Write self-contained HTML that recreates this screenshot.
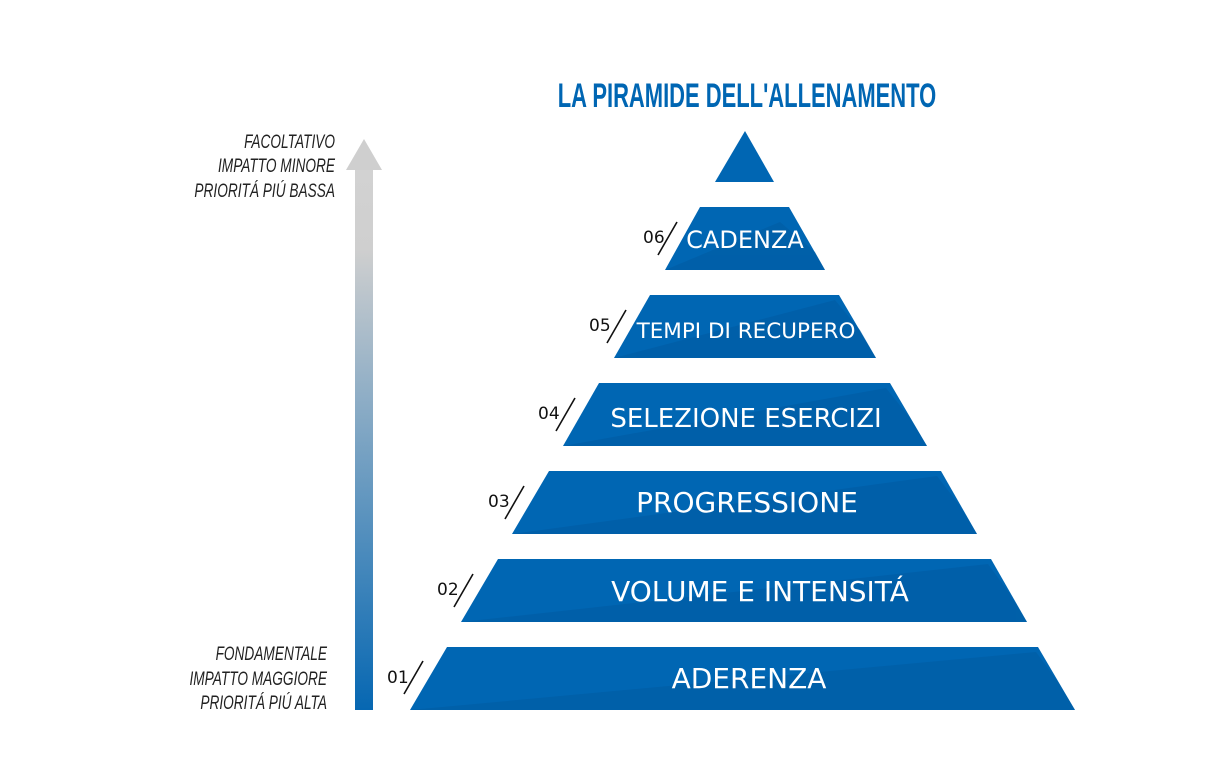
<!DOCTYPE html>
<html><head><meta charset="utf-8"><style>
html,body{margin:0;padding:0;background:#fff;}
svg{display:block}
</style></head><body>
<svg width="1220" height="782" viewBox="0 0 1220 782" xmlns="http://www.w3.org/2000/svg">
<defs>
<linearGradient id="ar" x1="0" y1="0" x2="0" y2="1">
<stop offset="0" stop-color="#d2d2d2"/><stop offset="0.15" stop-color="#cfcfcf"/><stop offset="1" stop-color="#0667b2"/>
</linearGradient>
</defs>
<text x="747" y="107" text-anchor="middle" font-family="Liberation Sans, sans-serif" font-weight="bold" font-size="34" fill="#0066b3" transform="translate(747 0) scale(0.646 1) translate(-747 0)">LA PIRAMIDE DELL'ALLENAMENTO</text>
<rect x="355" y="168" width="18" height="542" fill="url(#ar)"/>
<polygon points="346,170 382,170 364,139" fill="#cfcfcf"/>
<g font-family="Liberation Sans, sans-serif" font-style="italic" font-size="19" fill="#222" text-anchor="end">
<text transform="translate(335 148) scale(0.72 1)">FACOLTATIVO</text>
<text transform="translate(335 172) scale(0.72 1)">IMPATTO MINORE</text>
<text transform="translate(335 197) scale(0.72 1)">PRIORITÁ PIÚ BASSA</text>
<text transform="translate(327 660) scale(0.72 1)">FONDAMENTALE</text>
<text transform="translate(327 685) scale(0.72 1)">IMPATTO MAGGIORE</text>
<text transform="translate(327 709) scale(0.72 1)">PRIORITÁ PIÚ ALTA</text>
</g>
<g fill="#0066b3">
<polygon points="745,131 774,182 715,182"/>
<polygon points="700,207 789,207 825,270 665,270"/>
<polygon points="650,295 839,295 876,358 614,358"/>
<polygon points="599,383 890,383 927,446 563,446"/>
<polygon points="549,471 941,471 977,534 512,534"/>
<polygon points="498,559 991,559 1027,622 461,622"/>
<polygon points="447,647 1038,647 1075,710 410,710"/>
</g>
<g fill="#0059a0" opacity="0.5">
<polygon points="780,222 815,252 825,270 665,270"/>
<polygon points="835,300 860,330 876,358 614,358"/>
<polygon points="886,388 910,418 927,446 563,446"/>
<polygon points="937,476 960,506 977,534 512,534"/>
<polygon points="988,564 1010,594 1027,622 461,622"/>
<polygon points="1036,652 1058,682 1075,710 410,710"/>
</g>
<g font-family="DejaVu Sans, sans-serif" fill="#fff" text-anchor="middle">
<text x="745" y="248" font-size="24">CADENZA</text>
<text x="746" y="338" font-size="21.5">TEMPI DI RECUPERO</text>
<text x="746" y="427" font-size="26">SELEZIONE ESERCIZI</text>
<text x="747" y="512" font-size="28">PROGRESSIONE</text>
<text x="760" y="601" font-size="28">VOLUME E INTENSITÁ</text>
<text x="749" y="688" font-size="28">ADERENZA</text>
</g>
<g font-family="DejaVu Sans, sans-serif" font-size="17" fill="#111">
<text x="643" y="243">06</text>
<text x="589" y="331">05</text>
<text x="538" y="419">04</text>
<text x="488" y="507">03</text>
<text x="437" y="595">02</text>
<text x="387" y="683">01</text>
</g>
<g stroke="#111" stroke-width="1.6">
<line x1="677" y1="222" x2="658" y2="255"/>
<line x1="626" y1="310" x2="607" y2="343"/>
<line x1="575" y1="398" x2="556" y2="431"/>
<line x1="524" y1="486" x2="505" y2="519"/>
<line x1="473" y1="574" x2="454" y2="607"/>
<line x1="423" y1="661" x2="404" y2="694"/>
</g>
</svg>
</body></html>
